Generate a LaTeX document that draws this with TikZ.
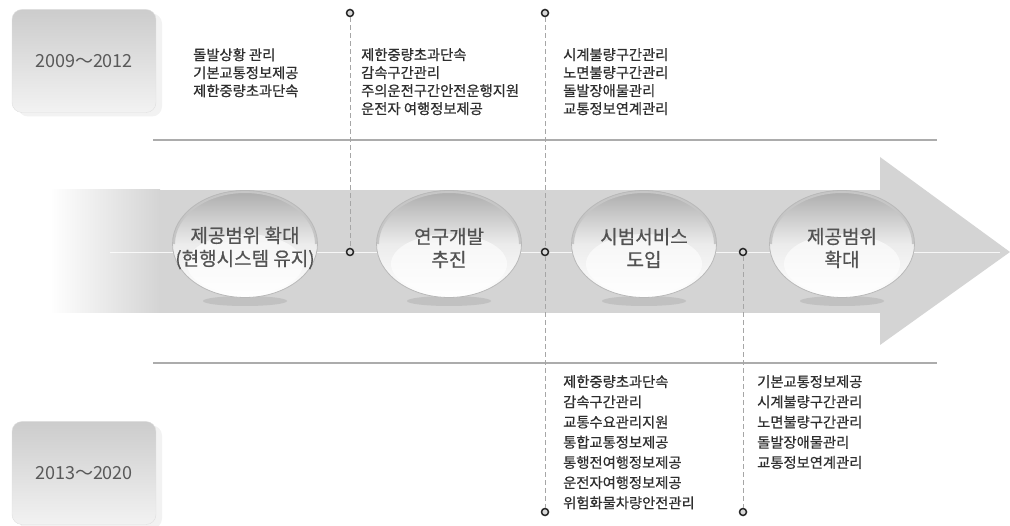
\documentclass[tikz,border=0pt]{standalone}
\usepackage{fontspec}
\setmainfont{Noto Sans CJK KR}
\newfontfamily\listfont{Noto Sans CJK KR}[FakeBold=0.6]
\usetikzlibrary{shapes.geometric,shadows}
\definecolor{bandgray}{HTML}{D4D4D4}
\definecolor{txtgray}{HTML}{2E2E2E}
\tikzset{
	yearbox/.style={rounded corners=10pt, minimum width=144, minimum height=103, top color=gray!40, bottom color=gray!10, draw=gray!25, text=gray!70!black, font=\fontsize{18}{20}\selectfont, general shadow={fill=gray!30, shadow xshift=6pt, shadow yshift=-4pt, opacity=.35}},
	dome/.style={ellipse, minimum width=145, minimum height=107, inner sep=0pt, top color=gray!65, bottom color=white, middle color=gray!15, draw=gray!55, line width=.8pt,
		path picture={
			\fill[white, opacity=.6] ([yshift=-20pt]path picture bounding box.center) ellipse (58pt and 30pt);
			\draw[gray!45, line width=4pt] ([xshift=-72pt]path picture bounding box.center) arc (180:0:72pt and 53pt);
		}},
	domelabel/.style={align=center, text=gray!65!black, font=\listfont\fontsize{19}{23}\selectfont},
	milestone/.style={circle, draw=gray!30!black, fill=gray!30, line width=1.5pt, inner sep=0pt, minimum size=7pt},
	guide/.style={gray!70, dashed, dash pattern=on 5pt off 3pt, line width=.6pt},
	timeline/.style={gray!65, line width=1.3pt},
	itemlist/.style={anchor=north west, inner sep=0pt, align=left, text=txtgray, font=\listfont\fontsize{14.3}{18}\selectfont},
}
\begin{document}
\begin{tikzpicture}[x=1pt,y=-1pt]
	\useasboundingbox (0,0) rectangle (1010,526);

	\shade[left color=white, right color=bandgray] (50,190) rectangle (160,313);
	\fill[bandgray] (159,190) rectangle (882,313);
	\fill[bandgray] (880,157) -- (1010,252) -- (880,345) -- cycle;
	\draw[white, line width=.8pt, opacity=.8] (110,252) -- (1000,252);

	\node[yearbox] (y1) at (84,61) {2009～2012};
	\node[yearbox] (y2) at (84,473) {2013～2020};

	\coordinate (t0) at (153,140);
	\coordinate (t1) at (937,140);
	\coordinate (b0) at (153,363);
	\coordinate (b1) at (937,363);
	\draw[timeline] (t0) -- (t1);
	\draw[timeline] (b0) -- (b1);

	\foreach \x in {245,449,644,842}
		\fill[gray!60, opacity=.55] (\x,301) ellipse (42 and 5);
	\node[dome] (s1) at (245,244) {};
	\node[dome] (s2) at (449,244) {};
	\node[dome] (s3) at (644,244) {};
	\node[dome] (s4) at (842,244) {};
	\node[domelabel] (d1) at ([yshift=-4pt]s1.center) {제공범위 확대\\(현행시스템 유지)};
	\node[domelabel] (d2) at ([yshift=-4pt]s2.center) {연구개발\\추진};
	\node[domelabel] (d3) at ([yshift=-4pt]s3.center) {시범서비스\\도입};
	\node[domelabel] (d4) at ([yshift=-4pt]s4.center) {제공범위\\확대};

	\node[milestone] (m1) at (350,13) {};
	\node[milestone] (m2) at (350,252) {};
	\node[milestone] (m3) at (545,13) {};
	\node[milestone] (m4) at (545,252) {};
	\node[milestone] (m5) at (545,512) {};
	\node[milestone] (m6) at (743,252) {};
	\node[milestone] (m7) at (743,512) {};
	\draw[guide] (m1) -- (m2);
	\draw[guide] (m3) -- (m4) -- (m5);
	\draw[guide] (m6) -- (m7);

	\node[itemlist] (t1a) at (193,48) {돌발상황 관리\\기본교통정보제공\\제한중량초과단속};
	\node[itemlist] (t2a) at (361,48) {제한중량초과단속\\감속구간관리\\주의운전구간안전운행지원\\운전자 여행정보제공};
	\node[itemlist] (t3a) at (563,48) {시계불량구간관리\\노면불량구간관리\\돌발장애물관리\\교통정보연계관리};
	\node[itemlist, font=\listfont\fontsize{14.3}{20.2}\selectfont] (b1a) at (563,375) {제한중량초과단속\\감속구간관리\\교통수요관리지원\\통합교통정보제공\\통행전여행정보제공\\운전자여행정보제공\\위험화물차량안전관리};
	\node[itemlist, font=\listfont\fontsize{14.3}{20.2}\selectfont] (b2a) at (757,375) {기본교통정보제공\\시계불량구간관리\\노면불량구간관리\\돌발장애물관리\\교통정보연계관리};
\end{tikzpicture}
\end{document}
